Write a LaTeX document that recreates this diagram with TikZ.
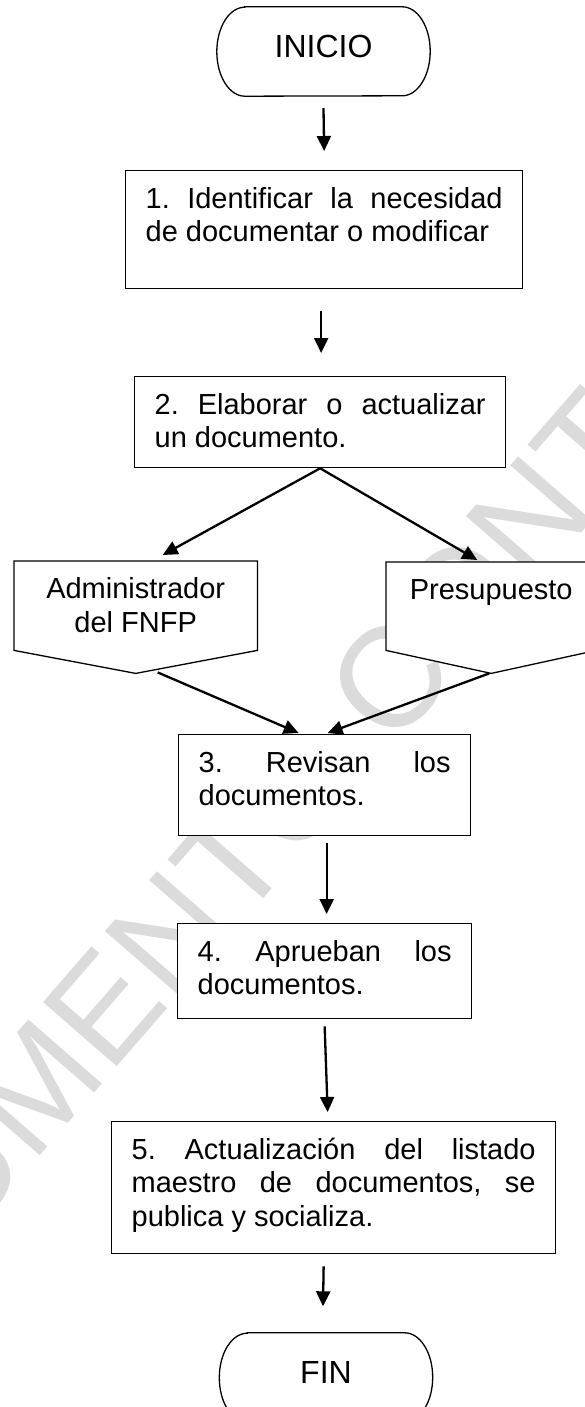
\documentclass[tikz,border=0pt]{standalone}
\usepackage{fontspec}
\setmainfont{Liberation Sans}
\usetikzlibrary{arrows.meta, calc}
\frenchspacing
\hbadness=10000

\begin{document}
\begin{tikzpicture}[x=1pt, y=-1pt,
    txt/.style={font=\fontsize{29}{33.5}\selectfont},
    terminal/.style={font=\fontsize{32}{36}\selectfont, minimum width=213pt, minimum height=89pt, inner sep=0pt, text depth=10pt},
    paso/.style={txt, draw, fill=white, line width=1.3pt, anchor=north west, inner xsep=20pt, inner ysep=14pt},
    hoja/.style={txt, fill=white, anchor=north west, inner xsep=0pt, inner ysep=14pt},
    flecha/.style={line width=2.3pt, -{Triangle[length=15pt, width=14pt]}}]
\useasboundingbox (0,0) rectangle (584,1407);

% Marca de agua
\node[rotate=49, text=black!14, font=\fontsize{142}{150}\selectfont] (marca) at (367,705) {DOCUMENTO CONTROLADO};

% Inicio y fin
\node[terminal] (ini) at (323.5,51.5) {INICIO};
\node[terminal] (fin) at (326,1377.5) {FIN};
\foreach \nom in {ini,fin} {
    \draw[line width=1.3pt] ([xshift=28pt]\nom.north west) -- ([xshift=-28pt]\nom.north east)
        arc[start angle=90, end angle=-90, x radius=28pt, y radius=44.5pt]
        -- ([xshift=28pt]\nom.south west)
        arc[start angle=270, end angle=90, x radius=28pt, y radius=44.5pt] -- cycle;
}

% Pasos
\node[paso] (p1) at (125,170) {\parbox[t][90pt][t]{357pt}{\strut 1. Identificar la necesidad\linebreak de documentar o modificar}};
\node[paso] (p2) at (134,376) {\parbox[t][63pt][t]{331pt}{\strut 2. Elaborar o actualizar\linebreak un documento.}};
\node[paso] (p3) at (178,734) {\parbox[t][73pt][t]{252pt}{\strut 3. Revisan los\linebreak documentos.}};
\node[paso] (p4) at (177,923) {\parbox[t][67pt][t]{254pt}{\strut 4. Aprueban los\linebreak documentos.}};
\node[paso] (p5) at (111,1121) {\parbox[t][104pt][t]{404pt}{\strut 5. Actualización del listado\linebreak maestro de documentos, se\linebreak publica y socializa.}};

% Responsables
\node[hoja] (adm) at (14,561) {\parbox[t][61pt][t]{243pt}{\centering\strut Administrador\\del FNFP}};
\node[hoja] (pre) at (386,562) {\parbox[t][60pt][t]{210pt}{\centering\strut Presupuesto}};
\foreach \nom in {adm,pre} {
    \fill[white] (\nom.south west) -- ([yshift=-23pt]\nom.south) -- (\nom.south east) -- cycle;
    \draw[line width=1.3pt] (\nom.north west) -- (\nom.north east) -- (\nom.south east)
        -- ([yshift=-23pt]\nom.south) -- (\nom.south west) -- cycle;
}

% Flechas
\draw[flecha] ($(ini.south)+(0,12)$) -- ($(p1.north)+(0,-19)$);
\draw[flecha] ($(p1.south)+(-3,22)$) -- ($(p2.north)+(1,-23)$);
\draw[flecha] (p2.south) -- ($(adm.north)+(27,-6)$);
\draw[flecha] (p2.south) -- ($(pre.north)+(-14,-2)$);
\draw[flecha] ($(adm.south)+(22,22)$) -- ($(p3.north)+(-26,-1)$);
\draw[flecha] ($(pre.south)+(-2,23)$) -- ($(p3.north)+(3,-1)$);
\draw[flecha] ($(p3.south)+(2,7)$) -- ($(p4.north)+(2,-9)$);
\draw[flecha] ($(p4.south)+(0,7)$) -- ($(p5.north)+(-6,-9)$);
\draw[flecha] ($(p5.south)+(-10,12)$) -- ($(fin.north)+(-3,-26.5)$);
\end{tikzpicture}
\end{document}
